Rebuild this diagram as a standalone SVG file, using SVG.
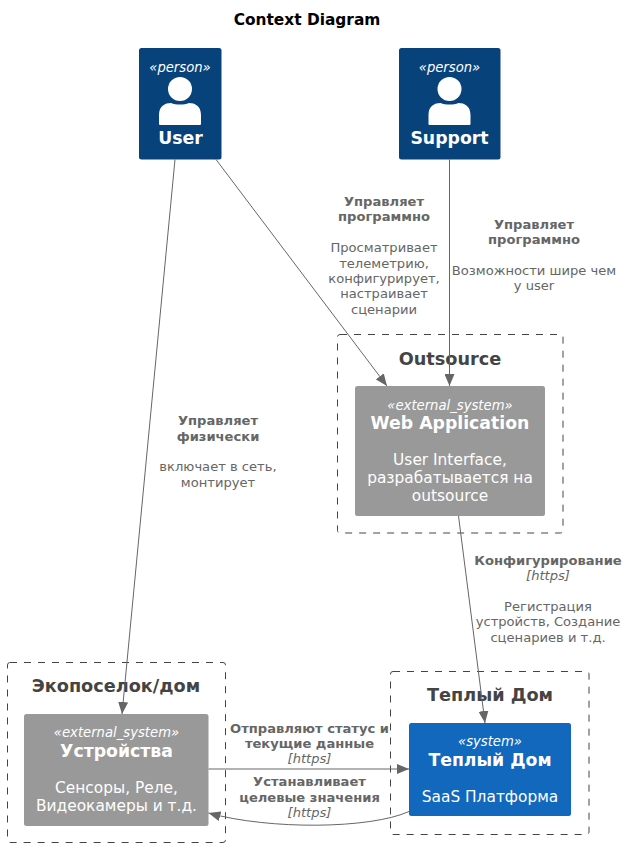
<svg xmlns="http://www.w3.org/2000/svg" width="629" height="848" viewBox="0 0 629 848">
<style>
text{font-family:"DejaVu Sans",sans-serif;text-anchor:middle}
.title{font-size:15.4px;font-weight:bold;fill:#000}
.st{font-size:13.2px;font-style:italic;fill:#fff}
.big{font-size:17.3px;font-weight:bold;fill:#fff}
.d{font-size:15.4px;fill:#fff}
.bt{font-size:17.7px;font-weight:bold;fill:#444}
.lb{font-size:13.1px;font-weight:bold;fill:#666}
.li{font-size:13.1px;font-style:italic;fill:#666}
.lt{font-size:13.1px;fill:#666}
.bd{fill:none;stroke:#444;stroke-width:1;stroke-dasharray:7 7}
.c{fill:none;stroke:#666;stroke-width:1}
</style>
<defs>
<marker id="a" viewBox="0 0 12 10" refX="12" refY="5" markerWidth="12" markerHeight="10" markerUnits="userSpaceOnUse" orient="auto"><path d="M0 0L12 5L0 10L0 5Z" fill="#666"/></marker>
<g id="p"><circle cx="0" cy="0" r="12" fill="#fff"/><path d="M-21 35V26C-21 17-15 14-9 14C-4 16 4 16 9 14C15 14 21 17 21 26V35Q21 36 20 36H-20Q-21 36-21 35Z" fill="#fff"/></g>
</defs>
<text class="title" x="307" y="25">Context Diagram</text>
<g id="boundary-outsource"><rect class="bd" x="337.5" y="334.5" width="225.5" height="198.5" rx="2.5"/><text class="bt" x="450" y="365">Outsource</text></g>
<g id="boundary-home"><rect class="bd" x="7.500" y="662.5" width="218" height="180" rx="2.5"/><text class="bt" x="116" y="692">Экопоселок/дом</text></g>
<g id="boundary-teplydom"><rect class="bd" x="390.5" y="671.5" width="198.500" height="163" rx="2.5"/><text class="bt" x="490" y="701">Теплый Дом</text></g>
<g id="user"><rect x="139" y="48" width="82.5" height="111.5" rx="2.5" fill="#08427B"/><text class="st" x="180" y="72">«person»</text><use href="#p" x="180" y="89"/><text class="big" x="180.500" y="144">User</text></g>
<g id="support"><rect x="399" y="48" width="101.500" height="111.5" rx="2.5" fill="#08427B"/><text class="st" x="449.500" y="72">«person»</text><use href="#p" x="449.500" y="89"/><text class="big" x="449.500" y="144">Support</text></g>
<g id="web-application"><rect x="355" y="386" width="190" height="130" rx="2.5" fill="#999"/><text class="st" x="450" y="410">«external_system»</text><text class="big" x="450" y="429">Web Application</text><text class="d" x="450" y="465">User Interface,</text><text class="d" x="450" y="483">разрабатывается на</text><text class="d" x="450" y="501">outsource</text></g>
<g id="devices"><rect x="24" y="714" width="184.500" height="112" rx="2.5" fill="#999"/><text class="st" x="116.500" y="737">«external_system»</text><text class="big" x="116.500" y="757">Устройства</text><text class="d" x="116.500" y="793">Сенсоры, Реле,</text><text class="d" x="116.500" y="811">Видеокамеры и т.д.</text></g>
<g id="teply-dom"><rect x="409" y="723" width="162" height="93" rx="2.5" fill="#1168BD"/><text class="st" x="490" y="746">«system»</text><text class="big" x="490" y="766">Теплый Дом</text><text class="d" x="490" y="802">SaaS Платформа</text></g>
<g id="connectors">
<path class="c" marker-end="url(#a)" d="M175 159.500L122 714"/>
<path class="c" marker-end="url(#a)" d="M216 159.500L387 386"/>
<path class="c" marker-end="url(#a)" d="M449.500 159.500V386"/>
<path class="c" marker-end="url(#a)" d="M458.500 516L485 723"/>
<path class="c" marker-end="url(#a)" d="M208.500 769H409"/>
<path class="c" marker-end="url(#a)" d="M409 811.500C370 829 270 830 208.500 813"/>
<g id="labels">
<text class="lb" x="384" y="206">Управляет</text><text class="lb" x="384" y="221">программно</text><text class="lt" x="384" y="252">Просматривает</text><text class="lt" x="384" y="268">телеметрию,</text><text class="lt" x="384" y="283">конфигурирует,</text><text class="lt" x="384" y="298">настраивает</text><text class="lt" x="384" y="314">сценарии</text>
<text class="lb" x="534" y="229">Управляет</text><text class="lb" x="534" y="244">программно</text><text class="lt" x="534" y="275">Возможности шире чем</text><text class="lt" x="534" y="290">у user</text>
<text class="lb" x="218" y="425">Управляет</text><text class="lb" x="218" y="441">физически</text><text class="lt" x="218" y="471">включает в сеть,</text><text class="lt" x="218" y="487">монтирует</text>
<text class="lb" x="548" y="565">Конфигурирование</text><text class="li" x="548" y="580">[https]</text><text class="lt" x="548" y="611">Регистрация</text><text class="lt" x="548" y="626">устройств, Создание</text><text class="lt" x="548" y="642">сценариев и т.д.</text>
<text class="lb" x="309.500" y="733">Отправляют статус и</text><text class="lb" x="309.500" y="748">текущие данные</text><text class="li" x="309.500" y="763">[https]</text>
<text class="lb" x="309.500" y="786">Устанавливает</text><text class="lb" x="309.500" y="802">целевые значения</text><text class="li" x="309.500" y="817">[https]</text>
</g>
</g>
</svg>
